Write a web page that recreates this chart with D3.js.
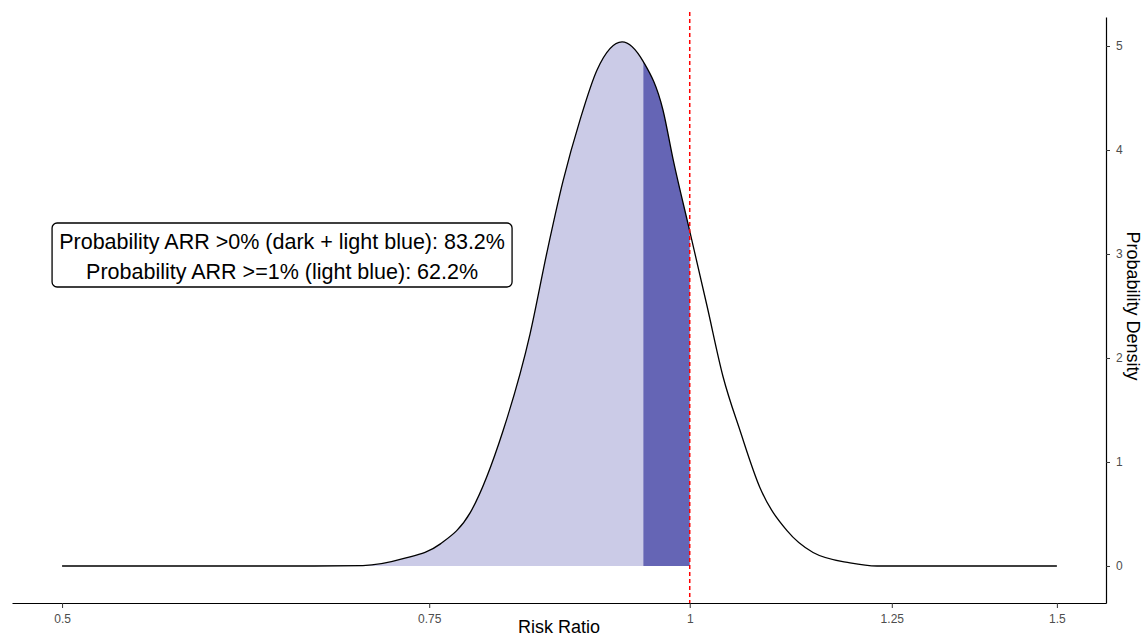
<!DOCTYPE html>
<html>
<head>
<meta charset="utf-8">
<script src="https://cdn.jsdelivr.net/npm/d3@7"></script>
<style>
  html, body { margin: 0; padding: 0; background: #fff; }
  svg { display: block; font-family: "Liberation Sans", Arial, sans-serif; }
</style>
</head>
<body>
<svg id="chart" width="1144" height="638"></svg>
<script>
// values
const riskRatio = [0.5, 0.6, 0.66, 0.697, 0.7286, 0.759, 0.7846, 0.8137, 0.8383, 0.8542, 0.8694, 0.8859, 0.9027,
                   0.928, 0.95, 0.971, 0.9818, 1.0, 1.0193, 1.0375, 1.0572, 1.0808, 1.1134, 1.1459, 1.1936, 1.2298, 1.35, 1.5];
const density = [0, 0, 0, 0.004, 0.07, 0.21, 0.51, 1.30, 2.23, 3.02, 3.70, 4.29, 4.77,
                 5.04, 4.85, 4.38, 3.91, 3.22, 2.50, 1.82, 1.30, 0.75, 0.34, 0.13, 0.03, 0, 0, 0];
const xTicks = [0.5, 0.75, 1, 1.25, 1.5];
const yTicks = [0, 1, 2, 3, 4, 5];
const lightRange = [0.5, 0.95];   // ARR >= 1%
const darkRange = [0.95, 1.0];    // 0% < ARR < 1%
const refLine = 1;
const labelLines = ['Probability ARR >0% (dark + light blue): 83.2%', 'Probability ARR >=1% (light blue): 62.2%'];
const labelPos = { rr: 0.6375, dens: 3.0 };

const svg = d3.select('#chart');
const pts = riskRatio.map((r, i) => ({ r, d: density[i] }));

const x = d3.scaleLog().domain([0.4731, 1.5836]).range([12, 1106]);
const y = d3.scaleLinear().domain([-0.356, 5.279]).range([603, 17]);

const line = d3.line().x(p => x(p.r)).y(p => y(p.d)).curve(d3.curveMonotoneX);
const area = d3.area().x(p => x(p.r)).y0(y(0)).y1(p => y(p.d)).curve(d3.curveMonotoneX);

// clip regions for the two shaded parts
const defs = svg.append('defs');
[['clip-light', lightRange], ['clip-dark', darkRange]].forEach(([id, rg]) => {
  defs.append('clipPath').attr('id', id)
    .append('rect')
    .attr('x', x(rg[0])).attr('y', 0)
    .attr('width', x(rg[1]) - x(rg[0])).attr('height', 638);
});

svg.append('path').datum(pts).attr('d', area)
  .attr('fill', '#cbcbe7').attr('clip-path', 'url(#clip-light)');
svg.append('path').datum(pts).attr('d', area)
  .attr('fill', '#6565b5').attr('clip-path', 'url(#clip-dark)');

svg.append('path').datum(pts).attr('d', line)
  .attr('fill', 'none').attr('stroke', '#000').attr('stroke-width', 1.3);

// reference line at RR = 1
svg.append('line')
  .attr('x1', x(refLine)).attr('x2', x(refLine))
  .attr('y1', 12).attr('y2', 603)
  .attr('stroke', '#ff0000').attr('stroke-width', 1.5)
  .attr('stroke-dasharray', '4,3');

// x axis
const xAxis = svg.append('g').attr('transform', 'translate(0,603)')
  .call(d3.axisBottom(x).tickValues(xTicks).tickFormat(d3.format('~g')).tickSize(5).tickSizeOuter(0));
xAxis.select('.domain').attr('stroke', '#000').attr('stroke-width', 1.2);
xAxis.selectAll('.tick line').attr('stroke', '#333');
xAxis.selectAll('.tick text').attr('fill', '#4d4d4d').style('font-size', '12px').attr('dy', '1.0em');

// y axis on the right
const yAxis = svg.append('g').attr('transform', 'translate(1106,0)')
  .call(d3.axisRight(y).tickValues(yTicks).tickFormat(d3.format('d')).tickSize(4).tickSizeOuter(0));
yAxis.select('.domain').attr('stroke', '#000').attr('stroke-width', 1.2);
yAxis.selectAll('.tick line').attr('stroke', '#333');
yAxis.selectAll('.tick text').attr('fill', '#4d4d4d').style('font-size', '12px').attr('x', 10);

// axis titles
svg.append('text').attr('x', 559).attr('y', 633)
  .attr('text-anchor', 'middle').style('font-size', '18px').attr('fill', '#000')
  .text('Risk Ratio');
svg.append('text')
  .attr('transform', 'translate(1127,306) rotate(90)')
  .attr('text-anchor', 'middle').style('font-size', '18px').attr('fill', '#000')
  .text('Probability Density');

// probability label
const lx = x(labelPos.rr), ly = y(labelPos.dens);
svg.append('rect')
  .attr('x', lx - 230).attr('y', ly - 31).attr('width', 460).attr('height', 64)
  .attr('rx', 5).attr('fill', '#fff').attr('stroke', '#000').attr('stroke-width', 1.3);
svg.selectAll('text.lbl').data(labelLines).enter()
  .append('text').attr('class', 'lbl')
  .attr('x', lx).attr('y', (d, i) => ly - 5 + i * 30)
  .attr('text-anchor', 'middle').style('font-size', '21.5px').attr('fill', '#000')
  .text(d => d);
</script>
</body>
</html>
